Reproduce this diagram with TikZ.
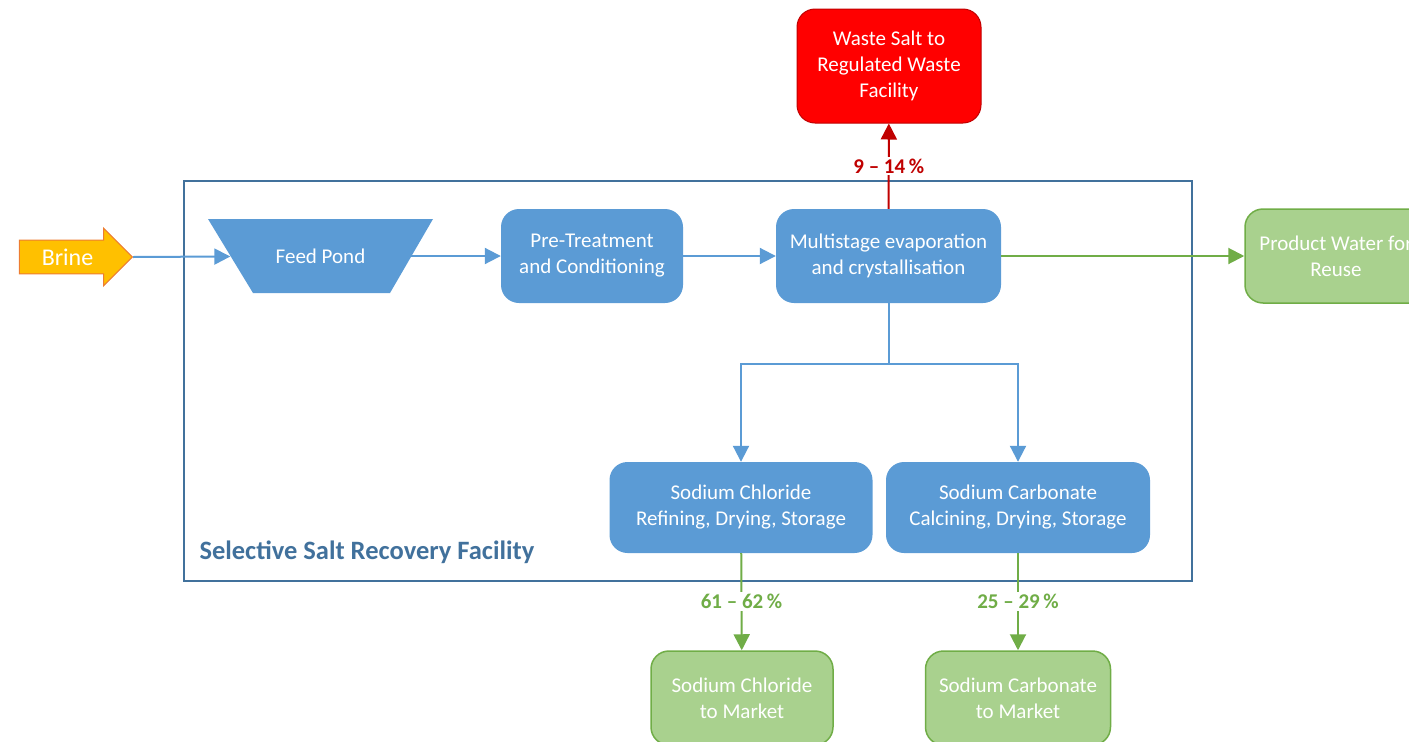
\documentclass[tikz,border=0pt]{standalone}
\usepackage{fontspec}
\setmainfont{Carlito}
\usetikzlibrary{arrows.meta,shapes.arrows}

\definecolor{procblue}{HTML}{5B9BD5}
\definecolor{frameblue}{HTML}{41719C}
\definecolor{outgreen}{HTML}{A9D18E}
\definecolor{linegreen}{HTML}{70AD47}
\definecolor{wastered}{HTML}{FF0000}
\definecolor{darkred}{HTML}{C00000}
\definecolor{brineorange}{HTML}{FFC000}
\definecolor{brineedge}{HTML}{ED7D31}

\tikzset{
  process/.style={rectangle, rounded corners=18pt, fill=procblue, text=white,
    align=center, font=\fontsize{21}{26}\selectfont, minimum height=94pt},
  product/.style={process, fill=outgreen, draw=linegreen, line width=1.5pt},
  waste/.style={process, fill=wastered, draw=darkred, line width=1pt},
  brinearrow/.style={single arrow, fill=brineorange, draw=brineedge, line width=1pt,
    text=white, font=\fontsize{24}{28}\selectfont, minimum height=113pt,
    single arrow head extend=12pt, single arrow tip angle=90, inner ysep=8pt},
  flow/.style={draw=procblue, line width=2pt, -{Triangle[length=16pt,width=16pt]}},
  greenflow/.style={flow, draw=linegreen},
  redflow/.style={flow, draw=darkred},
  pct/.style={fill=white, font=\fontsize{21}{24}\selectfont\bfseries, inner sep=2pt}
}

\begin{document}
\begin{tikzpicture}[x=1pt,y=-1pt]
  \useasboundingbox (0,0) rectangle (1409,742);
  \clip (0,0) rectangle (1409,742);
  % facility frame
  \draw[frameblue, line width=2pt] (184,181) rectangle (1192,581);
  \node[anchor=west, text=frameblue, font=\fontsize{26.5}{30}\selectfont\bfseries] (facility) at (196,552) {Selective Salt Recovery Facility};

  % feed pond
  \fill[procblue] (208,219) -- (433,219) -- (390,293) -- (253,293) -- cycle;
  \node[text=white, font=\fontsize{21}{26}\selectfont, minimum width=180pt, minimum height=74pt] (pond) at (320.5,256) {Feed Pond};

  \node[brinearrow] (brine) at (67.5,257) {Brine};
  \node[process, minimum width=182pt] (pretreat) at (592,256) {Pre-Treatment\\and Conditioning};
  \node[process, minimum width=225pt] (multi) at (888.5,256) {Multistage evaporation\\and crystallisation};
  \node[product, minimum width=182pt] (water) at (1336,256) {Product Water for\\Reuse};
  \node[waste, minimum width=184pt, minimum height=114pt] (waste) at (889,66) {Waste Salt to\\Regulated Waste\\Facility};
  \node[process, minimum width=263pt, minimum height=91pt] (nacl) at (741,507.5) {Sodium Chloride\\Refining, Drying, Storage};
  \node[process, minimum width=264pt, minimum height=91pt] (soda) at (1018,507.5) {Sodium Carbonate\\Calcining, Drying, Storage};
  \node[product, minimum width=182pt] (naclmkt) at (742,698) {Sodium Chloride\\to Market};
  \node[product, minimum width=185pt] (sodamkt) at (1018,698) {Sodium Carbonate\\to Market};

  % connectors
  \draw[flow] (brine.tip) -- (pond);
  \draw[flow] (pond) -- (pretreat);
  \draw[flow] (pretreat) -- (multi);
  \draw[greenflow] (multi) -- (water);
  \draw[redflow] (multi) -- node[pct, text=darkred] {9 -- 14\,\%} (waste);
  \draw[procblue, line width=2pt] (multi.south) -- ++(0,61) coordinate (split);
  \draw[flow] (split) -| (nacl);
  \draw[flow] (split) -| (soda);
  \draw[greenflow] (nacl) -- node[pct, text=linegreen] {61 -- 62\,\%} (naclmkt);
  \draw[greenflow] (soda) -- node[pct, text=linegreen] {25 -- 29\,\%} (sodamkt);
\end{tikzpicture}
\end{document}
